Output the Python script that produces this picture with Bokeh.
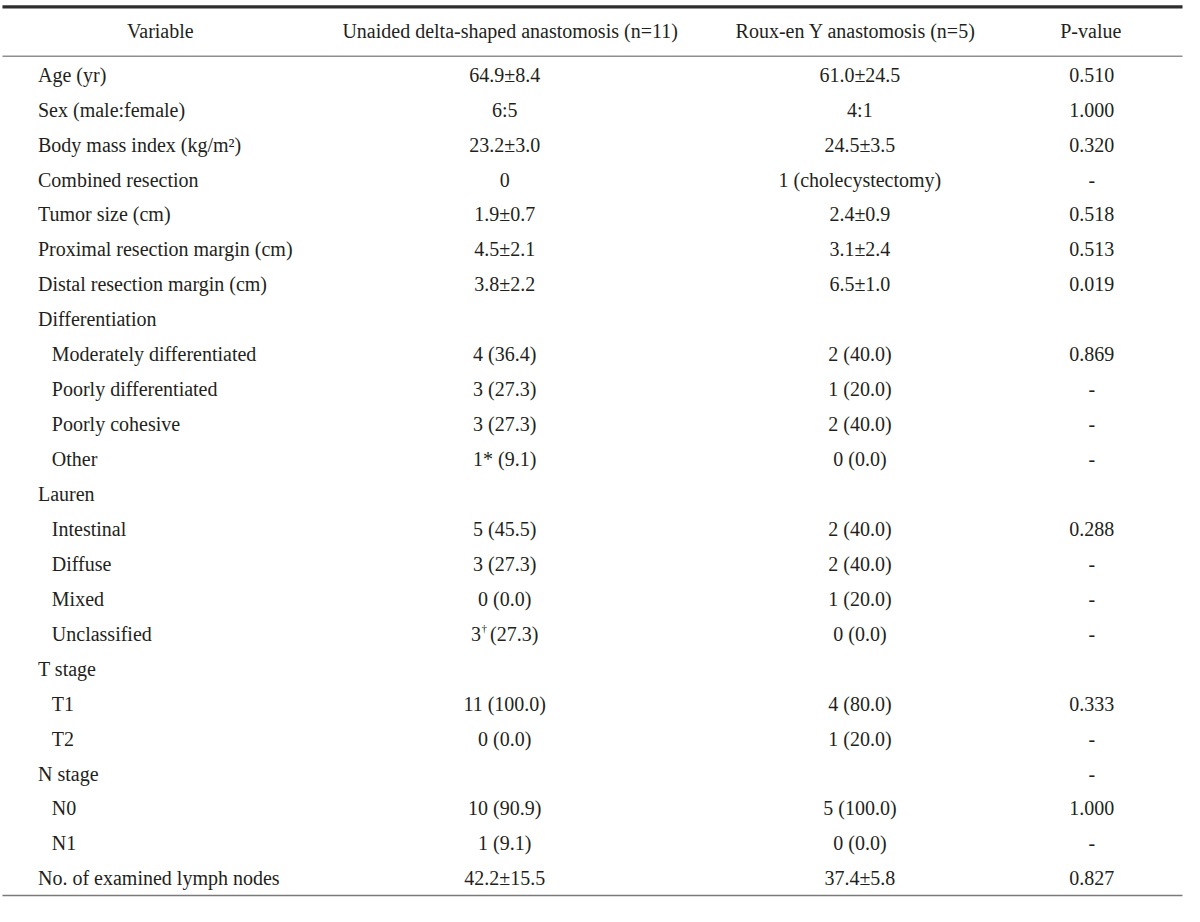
from bokeh.plotting import figure
from bokeh.models import ColumnDataSource
from bokeh.core.properties import value
from bokeh.embed import file_html
from bokeh.resources import INLINE

# ---------------- data ----------------
headers = ["Variable", "Unaided delta-shaped anastomosis (n=11)",
           "Roux-en Y anastomosis (n=5)", "P-value"]

variables = ["Age (yr)", "Sex (male:female)", "Body mass index (kg/m\u00b2)",
             "Combined resection", "Tumor size (cm)",
             "Proximal resection margin (cm)", "Distal resection margin (cm)",
             "Differentiation", "Moderately differentiated",
             "Poorly differentiated", "Poorly cohesive", "Other",
             "Lauren", "Intestinal", "Diffuse", "Mixed", "Unclassified",
             "T stage", "T1", "T2", "N stage", "N0", "N1",
             "No. of examined lymph nodes"]
indent = [0, 0, 0, 0, 0, 0, 0, 0, 1, 1, 1, 1, 0, 1, 1, 1, 1, 0, 1, 1, 0, 1, 1, 0]

delta_values = ["64.9\u00b18.4", "6:5", "23.2\u00b13.0", "0", "1.9\u00b10.7",
                "4.5\u00b12.1", "3.8\u00b12.2", "", "4 (36.4)", "3 (27.3)",
                "3 (27.3)", "1* (9.1)", "", "5 (45.5)", "3 (27.3)", "0 (0.0)",
                "3\u2009 (27.3)", "", "11 (100.0)", "0 (0.0)", "", "10 (90.9)",
                "1 (9.1)", "42.2\u00b115.5"]
# superscript footnote marks in the delta column (row index -> mark)
delta_marks = {16: "\u2020"}

roux_values = ["61.0\u00b124.5", "4:1", "24.5\u00b13.5", "1 (cholecystectomy)",
               "2.4\u00b10.9", "3.1\u00b12.4", "6.5\u00b11.0", "", "2 (40.0)",
               "1 (20.0)", "2 (40.0)", "0 (0.0)", "", "2 (40.0)", "2 (40.0)",
               "1 (20.0)", "0 (0.0)", "", "4 (80.0)", "1 (20.0)", "",
               "5 (100.0)", "0 (0.0)", "37.4\u00b15.8"]

p_values = ["0.510", "1.000", "0.320", "-", "0.518", "0.513", "0.019", "",
            "0.869", "-", "-", "-", "", "0.288", "-", "-", "-", "", "0.333",
            "-", "-", "1.000", "-", "0.827"]

# ---------------- layout ----------------
W, H = 1184, 906          # fits the 1200x922 window with 8px margins
REF_W, REF_H = 1200, 922  # layout units (reference pixels)
FONT = value("Liberation Serif")
FS = "20px"
TXT = "#231f20"

row0_y = 75.5
row_h = 35.56
header_y = 31.5
col_left = 38.0
col_indent = 52.0
header_centers = [162.0, 516.5, 867.0, 1105.0]
value_centers = [None, 511.0, 871.0, 1106.0]

p = figure(width=W, height=H, x_range=(0, REF_W), y_range=(REF_H, 0),
           output_backend="svg", toolbar_location=None, min_border=0)
p.xaxis.visible = False
p.yaxis.visible = False
p.grid.visible = False
p.outline_line_color = None
p.background_fill_color = "white"
p.border_fill_color = "white"

# rules: top (thick), under header (thin), bottom
p.segment(x0=[2], y0=[6.5], x1=[1198], y1=[6.5], line_color="#2e2e2e", line_width=3.4)
p.segment(x0=[2], y0=[56.7], x1=[1198], y1=[56.7], line_color="#8f8f8f", line_width=1.4)
p.segment(x0=[2], y0=[910.8], x1=[1198], y1=[910.8], line_color="#7a7a7a", line_width=1.6)

# header
hsrc = ColumnDataSource(dict(x=header_centers, y=[header_y] * 4, t=headers))
p.text(x="x", y="y", text="t", source=hsrc, text_font=FONT, text_font_size=FS,
       text_color=TXT, text_align="center", text_baseline="middle")

ys = [row0_y + i * row_h for i in range(len(variables))]

# variable column
vsrc = ColumnDataSource(dict(
    x=[col_indent if ind else col_left for ind in indent], y=ys, t=variables))
p.text(x="x", y="y", text="t", source=vsrc, text_font=FONT, text_font_size=FS,
       text_color=TXT, text_align="left", text_baseline="middle")

# value columns
for ci, vals in zip([1, 2, 3], [delta_values, roux_values, p_values]):
    src = ColumnDataSource(dict(x=[value_centers[ci]] * len(vals), y=ys, t=vals))
    p.text(x="x", y="y", text="t", source=src, text_font=FONT, text_font_size=FS,
           text_color=TXT, text_align="center", text_baseline="middle")

# superscript marks
mk_rows = list(delta_marks.keys())
msrc = ColumnDataSource(dict(
    x=[value_centers[1] - 23.5 for _ in mk_rows],
    y=[ys[r] - 6 for r in mk_rows],
    t=[delta_marks[r] for r in mk_rows]))
p.text(x="x", y="y", text="t", source=msrc, text_font=FONT, text_font_size="11px",
       text_color=TXT, text_align="left", text_baseline="middle")

open("out.html", "w").write(file_html(p, INLINE))
